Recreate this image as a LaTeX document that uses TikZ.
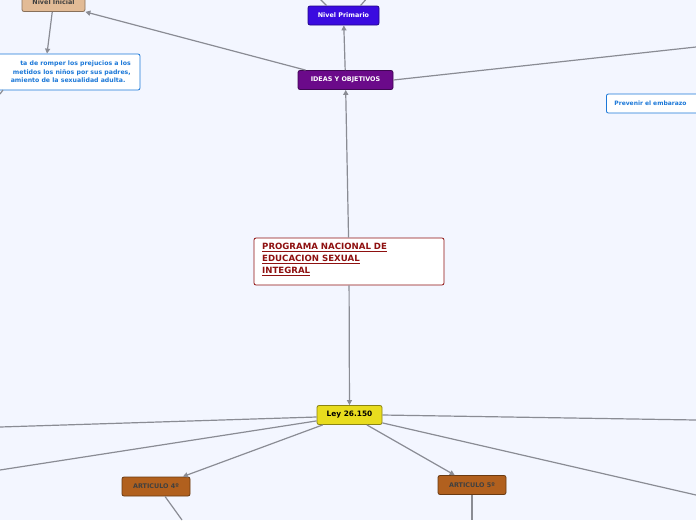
\documentclass[tikz,border=0pt]{standalone}
\usepackage{fontspec}
\setmainfont{DejaVu Sans}
\usetikzlibrary{positioning}
\usetikzlibrary{arrows.meta}
\definecolor{bg}{HTML}{F3F6FF}
\definecolor{link}{HTML}{8A8C94}
\definecolor{tan}{HTML}{E2BB96}
\definecolor{prim}{HTML}{3A0BE0}
\definecolor{ideas}{HTML}{6B0A8A}
\definecolor{ley}{HTML}{E8DC1E}
\definecolor{art}{HTML}{B1601E}
\definecolor{note}{HTML}{1C78D8}
\definecolor{title}{HTML}{8E1010}
\tikzset{
  topic/.style={draw=#1!60!black, fill=#1, rounded corners=2pt, font=\bfseries\fontsize{6.4}{7}\selectfont,
    minimum height=19pt, inner xsep=6pt, thick},
  notebox/.style={draw=note, fill=white, rounded corners=2pt, text=note, thick,
    font=\bfseries\fontsize{6}{7}\selectfont},
  link/.style={draw=link, line width=1.2pt, -{Triangle[length=5pt,width=5pt]}},
  plain link/.style={draw=link, line width=1.2pt},
}
\begin{document}
\begin{tikzpicture}[x=1pt,y=-1pt]
\useasboundingbox[fill=bg] (0,0) rectangle (696,520);
\node[draw=title, fill=white, rounded corners=2pt, thick, minimum width=190pt, minimum height=47pt] at (349,261.5) (programa) {};
\node[anchor=north west, text=title, align=left, font=\bfseries\fontsize{8.6}{12}\selectfont, inner sep=0pt] at (262,243) (programa text)
  {\underline{PROGRAMA NACIONAL DE}\\\underline{EDUCACION SEXUAL}\\\underline{INTEGRAL}};
\node[topic=ideas, text=white, minimum width=95pt] at (345.5,80) (ideas) {IDEAS Y OBJETIVOS};
\node[topic=prim, text=white, minimum width=71pt] at (343.5,15.5) (primario) {Nivel Primario};
\node[topic=tan, text=black!75, minimum width=63pt] at (53.5,2) (inicial) {Nivel Inicial};
\node[notebox, minimum width=210pt, minimum height=36pt] at (35,72) (prejuicios) {};
\node[anchor=east, text=note, align=right, font=\bfseries\fontsize{6.2}{8.4}\selectfont, inner sep=0pt] at (131,72) (prejuicios text)
  {ta de romper los prejucios a los\\metidos los niños por sus padres,\\amiento de la sexualidad adulta.\ \ \,};
\node[notebox, anchor=west, minimum height=19pt, text width=100pt, inner xsep=8pt, align=left] at (606,103.5) (embarazo) {Prevenir el embarazo};
\node[topic=ley, text=black, minimum width=65pt, font=\bfseries\fontsize{7.4}{8}\selectfont] at (349.5,415) (ley) {Ley 26.150};
\node[topic=art, text=black!75, minimum width=68pt] at (156,486.5) (art4) {ARTICULO 4º};
\node[topic=art, text=black!75, minimum width=68pt] at (472,485) (art5) {ARTICULO 5º};
% free ends
\coordinate (ideas r) at (696,47);
\coordinate (prim l) at (318,-3);
\coordinate (prim r) at (368,-3);
\coordinate (pre l) at (0,94);
\coordinate (ley l1) at (0,427);
\coordinate (ley l2) at (0,470);
\coordinate (ley r1) at (696,420);
\coordinate (ley r2) at (696,495);
\coordinate (art4 d) at (182,520);
\coordinate (art5 d) at (472,520);
% links
\draw[link] (programa) -- (ideas);
\draw[link] (ideas) -- (primario);
\draw[link] (ideas.north west) ++(8,0) -- (inicial.south east);
\draw[link] (inicial) -- (prejuicios.north -| 47,0);
\draw[plain link] (ideas.east) -- (ideas r);
\draw[plain link] (primario.north) ++(-17,0) -- (prim l);
\draw[plain link] (primario.north) ++(17,0) -- (prim r);
\draw[plain link] (3,90) -- (pre l);
\draw[link] (programa) -- (ley);
\draw[plain link] (ley.west) ++(0,2) -- (ley l1);
\draw[plain link] (ley.south west) ++(0,-4) -- (ley l2);
\draw[link] (ley) -- (art4);
\draw[link] (ley) -- (art5);
\draw[plain link] (ley.east) -- (ley r1);
\draw[plain link] (ley.south east) ++(0,-2) -- (ley r2);
\draw[plain link] (art4.south) ++(9,0) -- (art4 d);
\draw[plain link] (art5) -- (art5 d);
\end{tikzpicture}
\end{document}
